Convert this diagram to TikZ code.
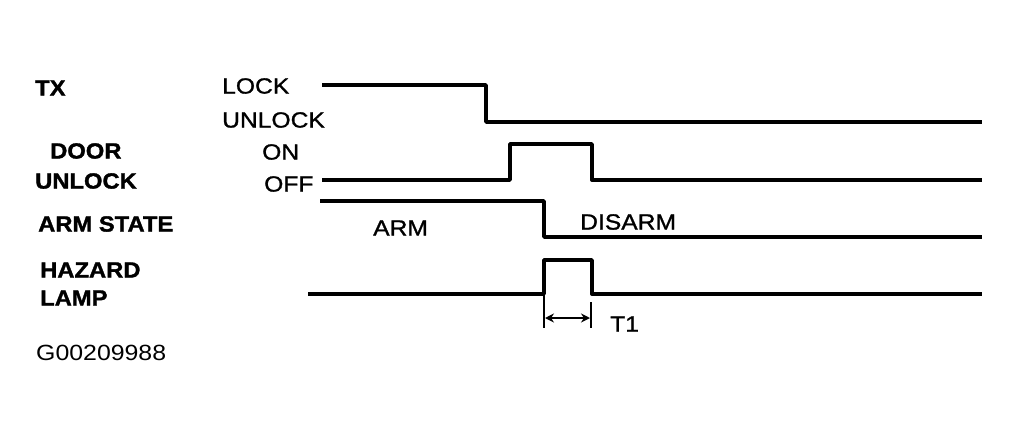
\documentclass[tikz,border=0pt]{standalone}
\usepackage{fontspec}
\setmainfont{Liberation Sans}
\newfontfamily\lblfont[FakeStretch=1.08,FakeBold=1.5]{Liberation Sans}
\newfontfamily\lvlfont[FakeStretch=1.12,FakeBold=1.2]{Liberation Sans}
\newfontfamily\codefont[FakeStretch=1.13]{Liberation Sans}
\usetikzlibrary{arrows.meta}
\begin{document}
\begin{tikzpicture}[x=1pt,y=-1pt,
  sig/.style={line width=3.4pt,line join=round},
  lbl/.style={anchor=west,inner sep=0pt,font=\lblfont\fontsize{22}{24}\selectfont\bfseries},
  lvl/.style={anchor=west,inner sep=0pt,font=\lvlfont\fontsize{22}{24}\selectfont},
  dim/.style={line width=2.6pt}]
\useasboundingbox (0,0) rectangle (1020,434);
% left labels
\node[lbl] (tx) at (35,88) {TX};
\node[lbl] (door) at (50,151) {DOOR};
\node[lbl] (unl) at (35,181) {UNLOCK};
\node[lbl] (arm) at (38,224) {ARM STATE};
\node[lbl] (haz) at (40,270) {HAZARD};
\node[lbl] (lamp) at (40,298) {LAMP};
\node[anchor=west,inner sep=0pt,font=\codefont\fontsize{22}{24}\selectfont] (code) at (36,353) {G00209988};
% level labels
\node[lvl] (lock) at (222,86) {LOCK};
\node[lvl] (unlock) at (222,120) {UNLOCK};
\node[lvl] (on) at (262,152) {ON};
\node[lvl] (off) at (264,184) {OFF};
\node[lvl] (armst) at (373,228) {ARM};
\node[lvl] (disarm) at (580,222) {DISARM};
\node[lvl] (t1) at (610,324) {T1};
% waveforms
\draw[sig] (322,85) -- (486,85) -- (486,122) -- (982,122);
\draw[sig] (322,180) -- (510,180) -- (510,144) -- (592,144) -- (592,180) -- (982,180);
\draw[sig] (320,201) -- (544,201) -- (544,237) -- (982,237);
\draw[sig] (308,294) -- (544,294) -- (544,260) -- (592,260) -- (592,294) -- (982,294);
% T1 dimension
\coordinate (a1) at (544,294);
\coordinate (a2) at (544,328);
\coordinate (b1) at (591,302);
\coordinate (b2) at (591,328);
\draw[dim] (a1) -- (a2);
\draw[dim] (b1) -- (b2);
\draw[dim,{Stealth[length=9pt,width=9pt]}-{Stealth[length=9pt,width=9pt]}] (545,318) -- (590,318);
\end{tikzpicture}
\end{document}
